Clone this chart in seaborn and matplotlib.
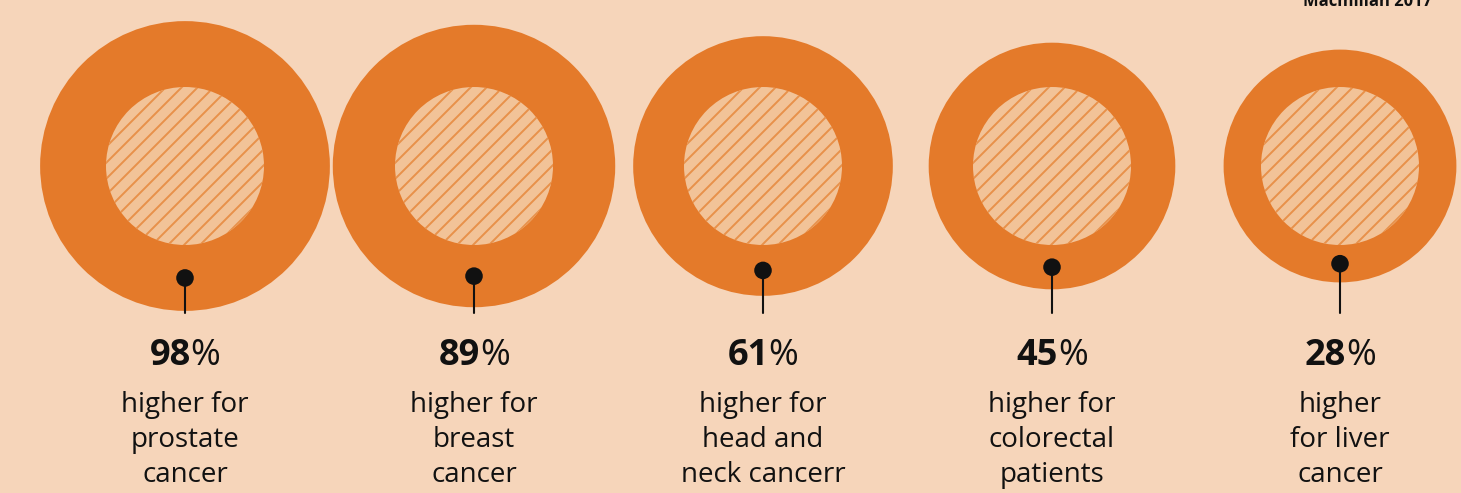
import matplotlib
matplotlib.use("Agg")
import matplotlib.pyplot as plt
from matplotlib.patches import Circle
import numpy as np
import pandas as pd
import seaborn as sns

# ---- data ----
values = [98, 89, 61, 45, 28]
labels = ["higher for\nprostate\ncancer",
          "higher for\nbreast\ncancer",
          "higher for\nhead and\nneck cancerr",
          "higher for\ncolorectal\npatients",
          "higher\nfor liver\ncancer"]
source = "Macmillan 2017"

# ---- style ----
BG = "#F6D5BA"
RING = "#E47A2A"
INNER = "#F2C398"
HATCH = "#E8914A"
INK = "#111111"

sns.set_theme(style="white")
plt.rcParams["font.family"] = ["Open Sans", "DejaVu Sans"]

W, H = 1461, 493
fig = plt.figure(figsize=(W / 100, H / 100), dpi=100, facecolor=BG)
ax = fig.add_axes([0, 0, 1, 1])
ax.set_facecolor(BG)
ax.set_xlim(0, W)
ax.set_ylim(H, 0)
ax.set_aspect("equal")
ax.axis("off")

centers_x = [185, 474, 763, 1052, 1340]
cy = 166
r_inner = 79

def outer_r(v):
    return 105.0 + 0.407 * v

dots = []
for cx, v in zip(centers_x, values):
    R = outer_r(v)
    ax.add_patch(Circle((cx, cy), R, facecolor=RING, edgecolor="none", zorder=1))
    inner = Circle((cx, cy), r_inner, facecolor=INNER, edgecolor="none", zorder=2)
    ax.add_patch(inner)
    # diagonal hatch lines clipped to the inner circle
    step = 16.0
    for c in np.arange(-2 * r_inner, 2 * r_inner + step, step):
        xs = np.array([cx - 2 * r_inner, cx + 2 * r_inner])
        ys = cy - (xs - cx) - c
        ln, = ax.plot(xs, ys, color=HATCH, lw=1.4, zorder=3, solid_capstyle="butt")
        ln.set_clip_path(inner)
    dot_y = (cy + r_inner + cy + R) / 2
    dots.append((cx, dot_y))
    ax.plot([cx, cx], [dot_y, 313], color=INK, lw=1.5, zorder=4)

dots_df = pd.DataFrame(dots, columns=["x", "y"])
sns.scatterplot(data=dots_df, x="x", y="y", s=160, color=INK, edgecolor="none",
                zorder=5, ax=ax, legend=False)
ax.set_xlim(0, W)
ax.set_ylim(H, 0)
ax.axis("off")

fig.canvas.draw()
renderer = fig.canvas.get_renderer()

for cx, v, lab in zip(centers_x, values, labels):
    t1 = ax.text(0, 0, f"{v}", fontsize=26, fontweight="bold", color=INK,
                 ha="left", va="baseline")
    t2 = ax.text(0, 0, "%", fontsize=26, fontweight="normal", color=INK,
                 ha="left", va="baseline")
    w1 = t1.get_window_extent(renderer).width
    w2 = t2.get_window_extent(renderer).width
    total = w1 + w2
    x0 = cx - total / 2
    t1.set_position((x0, 365))
    t2.set_position((x0 + w1, 365))
    for i, line in enumerate(lab.split("\n")):
        ax.text(cx, 412 + i * 35, line, fontsize=20, color=INK,
                ha="center", va="baseline")

ax.text(1432, 6, source, fontsize=12, fontweight="bold", color=INK,
        ha="right", va="baseline")

fig.savefig("out.png", dpi=100, facecolor=BG)
